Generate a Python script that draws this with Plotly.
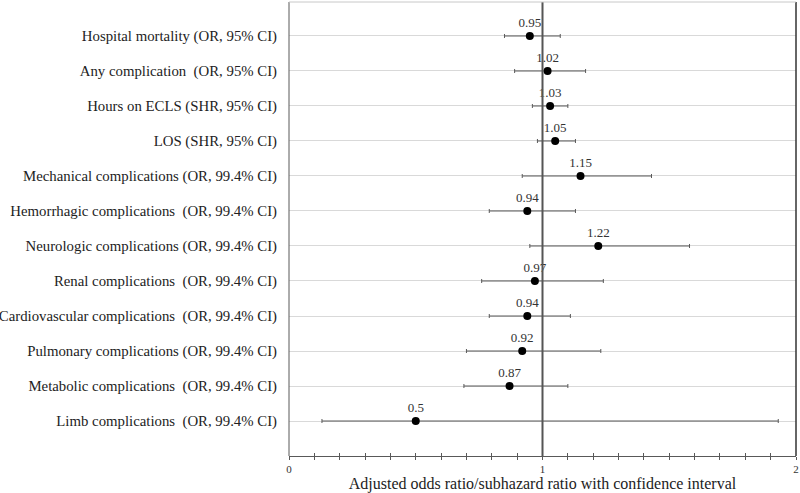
import plotly.graph_objects as go

labels = [
    "Hospital mortality (OR, 95% CI)",
    "Any complication \u00a0(OR, 95% CI)",
    "Hours on ECLS (SHR, 95% CI)",
    "LOS (SHR, 95% CI)",
    "Mechanical complications (OR, 99.4% CI)",
    "Hemorrhagic complications \u00a0(OR, 99.4% CI)",
    "Neurologic complications (OR, 99.4% CI)",
    "Renal complications \u00a0(OR, 99.4% CI)",
    "Cardiovascular complications \u00a0(OR, 99.4% CI)",
    "Pulmonary complications (OR, 99.4% CI)",
    "Metabolic complications \u00a0(OR, 99.4% CI)",
    "Limb complications \u00a0(OR, 99.4% CI)",
]
estimates = [0.95, 1.02, 1.03, 1.05, 1.15, 0.94, 1.22, 0.97, 0.94, 0.92, 0.87, 0.5]
ci_low = [0.85, 0.89, 0.96, 0.98, 0.92, 0.79, 0.95, 0.76, 0.79, 0.70, 0.69, 0.13]
ci_high = [1.07, 1.17, 1.10, 1.13, 1.43, 1.13, 1.58, 1.24, 1.11, 1.23, 1.10, 1.93]
x_tick_vals = [0, 1, 2]
x_tick_text = ["0", "1", "2"]

FONT = "Liberation Serif, Times New Roman, serif"

fig = go.Figure()
fig.add_trace(go.Scatter(
    x=estimates,
    y=labels,
    mode="markers+text",
    text=[str(v) for v in estimates],
    textposition="top center",
    textfont=dict(family=FONT, size=13, color="#333333"),
    marker=dict(color="black", size=8),
    error_x=dict(
        type="data",
        symmetric=False,
        array=[h - e for h, e in zip(ci_high, estimates)],
        arrayminus=[e - l for e, l in zip(estimates, ci_low)],
        color="#595959",
        thickness=1,
        width=2,
    ),
    showlegend=False,
    cliponaxis=False,
    hoverinfo="skip",
))

# invisible trace to carry inside ticks on a second x axis
fig.add_trace(go.Scatter(x=[0, 2], y=[labels[0], labels[0]], mode="markers",
                         marker=dict(opacity=0), xaxis="x2", showlegend=False,
                         hoverinfo="skip"))

fig.update_layout(
    width=800, height=493,
    margin=dict(l=289, r=4, t=2, b=37),
    paper_bgcolor="white",
    plot_bgcolor="white",
    font=dict(family=FONT, color="#222222"),
    xaxis=dict(
        range=[0, 2],
        automargin=False,
        tickvals=[i / 10 for i in range(21)],
        ticktext=[x_tick_text[x_tick_vals.index(i // 10)] if i % 10 == 0 else "" for i in range(21)],
        ticks="outside", ticklen=3, tickcolor="#595959", tickwidth=1,
        tickfont=dict(family=FONT, size=11, color="#333333"),
        showgrid=False, zeroline=False,
        showline=True, linecolor="#595959", linewidth=1,
        title=dict(text="Adjusted odds ratio/subhazard ratio with confidence interval",
                   font=dict(family=FONT, size=16, color="#222222"), standoff=3),
    ),
    xaxis2=dict(
        range=[0, 2], overlaying="x", side="bottom", anchor="y",
        automargin=False,
        tickvals=[i / 10 for i in range(21)],
        ticks="inside", ticklen=3, tickcolor="#595959", tickwidth=1,
        showticklabels=False, showgrid=False, zeroline=False, showline=False,
    ),
    yaxis=dict(
        type="category",
        automargin=False,
        categoryorder="array", categoryarray=labels,
        range=[12, -0.971],
        showgrid=True, gridcolor="#d9d9d9", gridwidth=1,
        zeroline=False, showline=False,
        ticks="outside", ticklen=8, tickcolor="rgba(0,0,0,0)",
        tickfont=dict(family=FONT, size=14.8, color="#222222"),
    ),
    shapes=[
        dict(type="line", xref="x", yref="paper", x0=1, x1=1, y0=0, y1=1,
             line=dict(color="#555555", width=2)),
        dict(type="line", xref="paper", yref="paper", x0=0, x1=0, y0=0, y1=1,
             line=dict(color="#595959", width=1)),
        dict(type="line", xref="paper", yref="paper", x0=1, x1=1, y0=0, y1=1,
             line=dict(color="#333333", width=1.5)),
        dict(type="line", xref="paper", yref="paper", x0=0, x1=1, y0=1, y1=1,
             line=dict(color="#c8c8c8", width=1)),
    ],
)

fig.write_html("out.html", config={"displayModeBar": False},
               post_script="document.body.style.margin='0';document.body.style.overflow='hidden';")
